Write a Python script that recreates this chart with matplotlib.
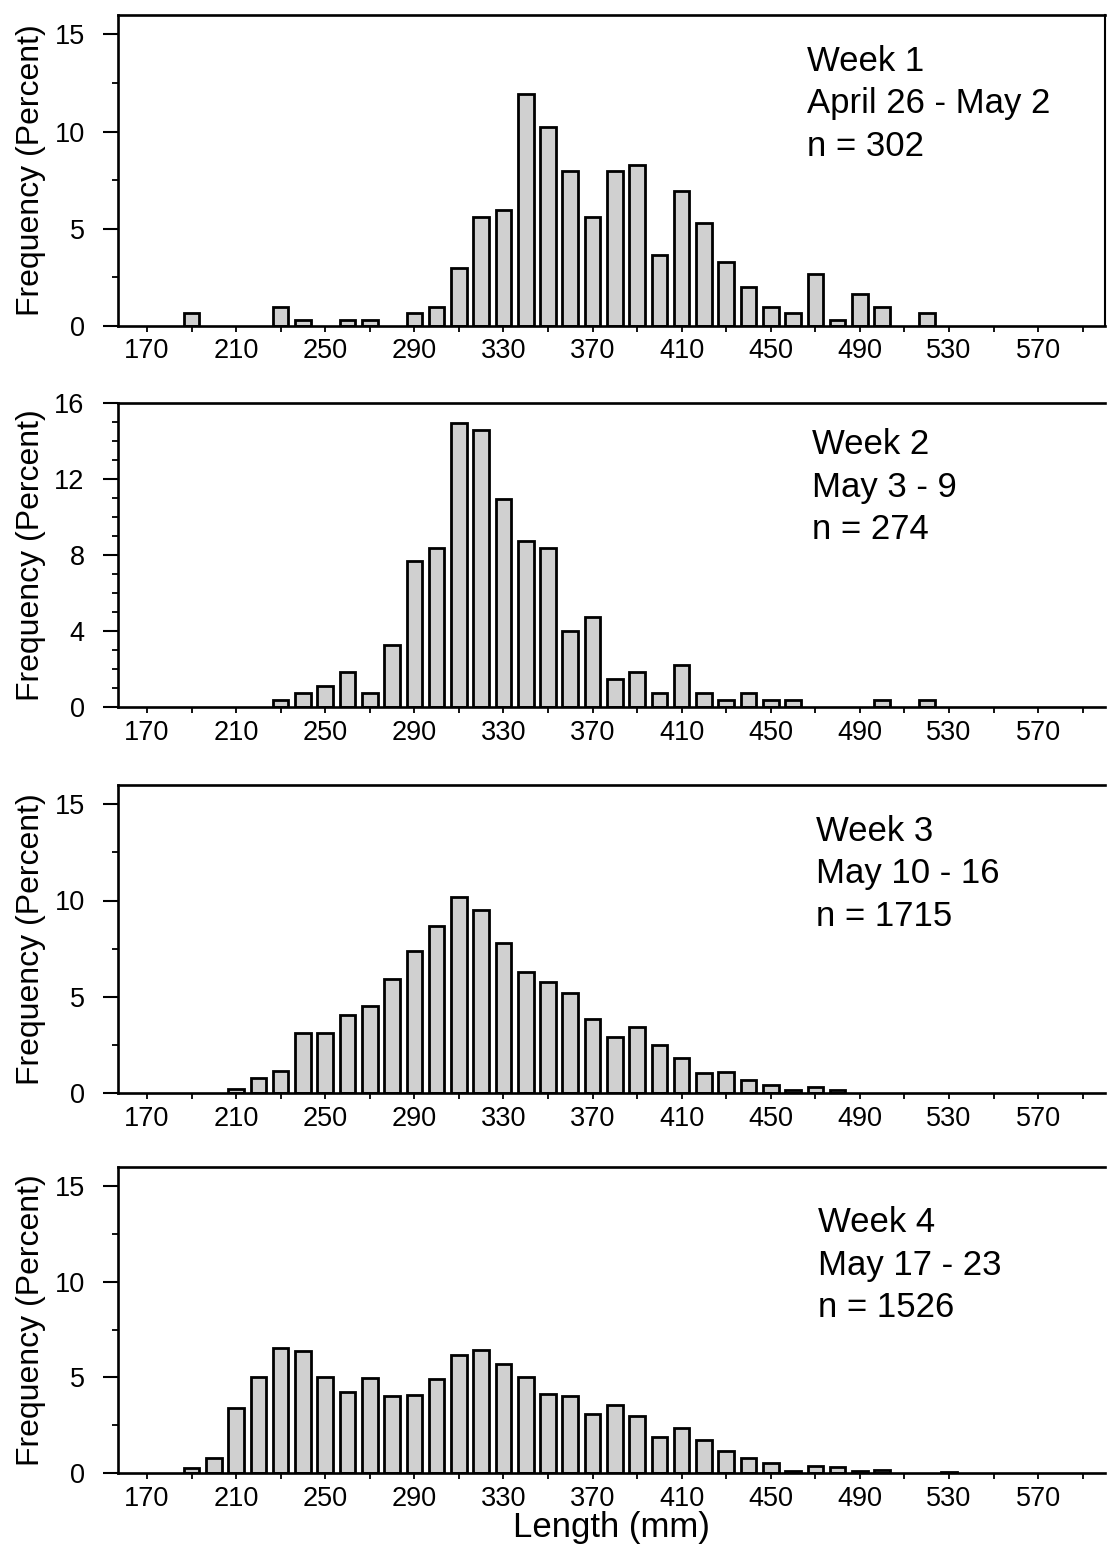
import matplotlib
matplotlib.use("Agg")
import matplotlib.pyplot as plt
from matplotlib.ticker import MultipleLocator

plt.rcParams["font.family"] = ["Liberation Sans", "DejaVu Sans"]

# ── Data (percent of fish per 10 mm length class) ─────────────────────────
LENGTHS = [180, 190, 200, 210, 220, 230, 240, 250, 260, 270, 280, 290,
           300, 310, 320, 330, 340, 350, 360, 370, 380, 390, 400, 410,
           420, 430, 440, 450, 460, 470, 480, 490, 500, 510, 520, 530]

week1 = [0, 0.66, 0, 0, 0, 0.99, 0.33, 0, 0.33, 0.33, 0, 0.66,
         0.99, 2.98, 5.63, 5.96, 11.92, 10.26, 7.95, 5.63, 7.95, 8.28, 3.64, 6.95,
         5.30, 3.31, 1.99, 0.99, 0.66, 2.65, 0.33, 1.66, 0.99, 0, 0.66, 0]

week2 = [0, 0, 0, 0, 0, 0.36, 0.73, 1.09, 1.82, 0.73, 3.28, 7.66,
         8.39, 14.96, 14.60, 10.95, 8.76, 8.39, 4.01, 4.74, 1.46, 1.82, 0.73, 2.19,
         0.73, 0.36, 0.73, 0.36, 0.36, 0, 0, 0, 0.36, 0, 0.36, 0]

week3 = [0, 0, 0, 0.23, 0.80, 1.13, 3.13, 3.13, 4.05, 4.51, 5.90, 7.38,
         8.68, 10.20, 9.51, 7.81, 6.30, 5.78, 5.20, 3.83, 2.90, 3.44, 2.47, 1.82,
         1.04, 1.08, 0.66, 0.43, 0.17, 0.31, 0.14, 0, 0, 0, 0, 0]

week4 = [0, 0.28, 0.79, 3.41, 5.03, 6.56, 6.38, 5.03, 4.21, 4.98, 4.02, 4.07,
         4.91, 6.17, 6.43, 5.68, 5.03, 4.11, 4.05, 3.10, 3.58, 2.97, 1.87, 2.36,
         1.70, 1.17, 0.79, 0.52, 0.09, 0.35, 0.30, 0.09, 0.17, 0, 0, 0.05]

WEEKS = [
    (week1, "Week 1\nApril 26 - May 2\nn = 302"),
    (week2, "Week 2\nMay 3 - 9\nn = 274"),
    (week3, "Week 3\nMay 10 - 16\nn = 1715"),
    (week4, "Week 4\nMay 17 - 23\nn = 1526"),
]

# y-axis setup per panel: (major ticks, minor step)
YTICKS = [([0, 5, 10, 15], 2.5), ([0, 4, 8, 12, 16], 1),
          ([0, 5, 10, 15], 2.5), ([0, 5, 10, 15], 2.5)]

XMAJOR = list(range(170, 600, 40))
XMINOR = list(range(190, 600, 40))

# panel boxes in pixels (top, bottom) of a 1107 x 1544 figure
BOXES = [(15, 326), (403, 707), (785, 1093), (1167, 1473)]
TEXTPOS = [(0.698, 0.905), (0.703, 0.918), (0.707, 0.903), (0.709, 0.872)]

W, H = 1107, 1544
fig = plt.figure(figsize=(W / 100, H / 100), dpi=100)

for i, ((vals, label), (yt, ystep), (top, bot)) in enumerate(zip(WEEKS, YTICKS, BOXES)):
    ax = fig.add_axes([118 / W, 1 - bot / H, (1105 - 118) / W, (bot - top) / H])
    xs = [x for x, v in zip(LENGTHS, vals) if v > 0]
    ys = [v for v in vals if v > 0]
    ax.bar(xs, ys, width=7.0, color="#d0d0d0", edgecolor="black",
           linewidth=2.0, zorder=2)
    ax.set_xlim(157, 600)
    ax.set_ylim(0, 16)

    ax.set_xticks(XMAJOR)
    ax.set_xticks(XMINOR, minor=True)
    ax.set_yticks(yt)
    ax.yaxis.set_minor_locator(MultipleLocator(ystep))

    ax.tick_params(axis="x", which="both", direction="out", length=4, width=1.3,
                   labelsize=19.5, pad=5)
    ax.tick_params(axis="y", which="major", direction="out", length=11, width=1.5,
                   labelsize=19.5, pad=13)
    ax.tick_params(axis="y", which="minor", direction="out", length=4, width=1.3)

    for side in ["left", "bottom", "top"]:
        ax.spines[side].set_linewidth(1.9)
    if i == 0:
        ax.spines["right"].set_linewidth(1.5)
    else:
        ax.spines["right"].set_visible(False)

    ax.set_ylabel("Frequency (Percent)", fontsize=23, labelpad=6)
    ax.text(TEXTPOS[i][0], TEXTPOS[i][1], label, transform=ax.transAxes,
            fontsize=25, va="top", ha="left", linespacing=1.37)

    if i == 3:
        ax.set_xlabel("Length (mm)", fontsize=25, labelpad=0)

fig.savefig("out.png", dpi=100)
